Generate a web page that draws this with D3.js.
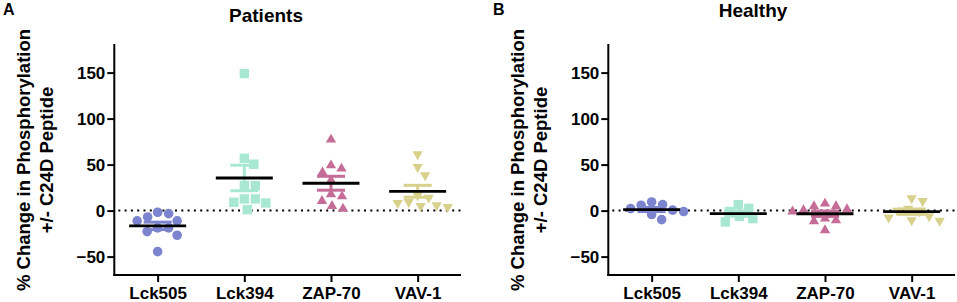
<!DOCTYPE html>
<html>
<head>
<meta charset="utf-8">
<script src="https://cdn.jsdelivr.net/npm/d3@7"></script>
<style>
  body { margin: 0; background: #fff; }
  svg text { font-family: "Liberation Sans", Arial, sans-serif; font-weight: bold; fill: #000; }
</style>
</head>
<body>
<div id="chart"></div>
<script>
const categories = ["Lck505", "Lck394", "ZAP-70", "VAV-1"]
const yTicks = [-50, 0, 50, 100, 150]

// % change values
const patientLck505 = [-1.8, -3.3, -6.9, -11.2, -11.2, -18.8, -18.8, -22.8, -26.8, -44.6]
const patientLck394 = [148.9, 56.9, 50.4, 27.2, 27.2, 12.7, 12.7, 9.1, 8.3, 1.1]
const patientZap70 = [77.2, 49.2, 45.6, 41.6, 32.9, 17.7, 15.5, 10.5, 5.0, 2.1]
const patientVav1 = [61.2, 47.4, 38.4, 16.6, 14.1, 9.3, 8.3, 5.8, 5.0, 3.9]

const healthyLck505 = [9.4, 6.5, 5.8, 2.2, 0.5, -1, -4.3, -9.8]
const healthyLck394 = [6.5, 2.5, -1, -6.2, -8.7, -12.3]
const healthyZap70 = [7.6, 4.7, 4.7, 1.5, 0.5, -1, -8.7, -10.5, -11.6, -21.4]
const healthyVav1 = [13.5, 10.5, 2, 0, -1, -6.2, -7.6, -10.5, -11]

const colors = ["#7d84cf", "#a8e8d3", "#c56d98", "#d7d18b"]
const shapes = ["circle", "square", "triangle", "triangleDown"]

const panels = [
  { letter: "A", title: "Patients", left: 114.3, titleX: 266, titleY: 22, letterX: 3,
    groups: [patientLck505, patientLck394, patientZap70, patientVav1] },
  { letter: "B", title: "Healthy", left: 608.3, titleX: 753, titleY: 17, letterX: 493,
    groups: [healthyLck505, healthyLck394, healthyZap70, healthyVav1] }
]

const width = 957, height = 302
const plotW = 346.7, plotTop = 45, plotBottom = 275

const svg = d3.select("#chart").append("svg")
  .attr("width", width).attr("height", height)
  .attr("viewBox", `0 0 ${width} ${height}`)

const y = d3.scaleLinear().domain([-70, 180]).range([plotBottom, plotTop])

// simple beeswarm so overlapping points get pushed sideways
function swarm(values, cx, d) {
  const pts = values.map(v => ({ v, py: y(v), dx: 0 })).sort((a, b) => b.v - a.v)
  const placed = []
  pts.forEach(p => {
    for (let k = 0; k < 200; k++) {
      const step = Math.ceil(k / 2) * 0.5 * (k % 2 ? 1 : -1)
      const ok = placed.every(q => (step - q.dx) ** 2 + (p.py - q.py) ** 2 >= d * d)
      if (ok) { p.dx = step; break }
    }
    placed.push(p)
  })
  return pts.map(p => ({ x: cx + p.dx, y: p.py }))
}

function marker(sel, shape, color) {
  if (shape === "circle") {
    sel.append("circle").attr("r", 4.8).attr("fill", color)
  } else if (shape === "square") {
    sel.append("rect").attr("x", -4.7).attr("y", -4.7).attr("width", 9.4).attr("height", 9.4).attr("fill", color)
  } else {
    const p = d3.symbol(d3.symbolTriangle, 46)()
    sel.append("path").attr("d", p).attr("fill", color)
      .attr("transform", shape === "triangleDown" ? "rotate(180)" : null)
  }
}

panels.forEach(panel => {
  const x = d3.scalePoint().domain(categories)
    .range([panel.left, panel.left + plotW]).padding(0.5)

  const g = svg.append("g")

  // panel letter and title
  g.append("text").attr("x", panel.letterX).attr("y", 15)
    .attr("font-size", 16).text(panel.letter)
  g.append("text").attr("x", panel.titleX).attr("y", panel.titleY)
    .attr("text-anchor", "middle").attr("font-size", 19).text(panel.title)

  // y axis label
  const midY = (plotTop + plotBottom) / 2
  g.append("text").attr("transform", `translate(${panel.left - 84},${midY}) rotate(-90)`)
    .attr("text-anchor", "middle").attr("font-size", 18.5)
    .text("% Change in Phosphorylation")
  g.append("text").attr("transform", `translate(${panel.left - 61},${midY}) rotate(-90)`)
    .attr("text-anchor", "middle").attr("font-size", 18.5)
    .text("+/- C24D Peptide")

  // zero reference line
  g.append("line")
    .attr("x1", panel.left + 4).attr("x2", panel.left + plotW)
    .attr("y1", y(0)).attr("y2", y(0))
    .attr("stroke", "#000").attr("stroke-width", 2).attr("stroke-dasharray", "2,4.3")

  // points
  panel.groups.forEach((vals, i) => {
    const pts = swarm(vals, x(categories[i]), 11)
    pts.forEach(p => {
      const m = g.append("g").attr("transform", `translate(${p.x},${p.y})`)
      marker(m, shapes[i], colors[i])
    })
  })

  // mean +/- SEM
  panel.groups.forEach((vals, i) => {
    const cx = x(categories[i])
    const mean = d3.mean(vals)
    const sem = d3.deviation(vals) / Math.sqrt(vals.length)
    const eb = g.append("g").attr("stroke", colors[i]).attr("stroke-width", 3)
    eb.append("line").attr("x1", cx).attr("x2", cx).attr("y1", y(mean + sem)).attr("y2", y(mean - sem))
    eb.append("line").attr("x1", cx - 14).attr("x2", cx + 14).attr("y1", y(mean + sem)).attr("y2", y(mean + sem))
    eb.append("line").attr("x1", cx - 14).attr("x2", cx + 14).attr("y1", y(mean - sem)).attr("y2", y(mean - sem))
    g.append("line").attr("x1", cx - 28.5).attr("x2", cx + 28.5)
      .attr("y1", y(mean)).attr("y2", y(mean))
      .attr("stroke", "#000").attr("stroke-width", 2.8)
  })

  // axes
  g.append("g").attr("transform", `translate(${panel.left},0)`)
    .call(d3.axisLeft(y).tickValues(yTicks).tickSize(7).tickSizeOuter(0).tickPadding(2))
    .call(a => a.select(".domain").attr("stroke-width", 2).attr("d", `M0,${plotBottom + 1}V${plotTop - 1}`))
    .call(a => a.selectAll(".tick line").attr("stroke-width", 2))
    .call(a => a.selectAll(".tick text").attr("font-size", 17).attr("font-family", null))

  g.append("g").attr("transform", `translate(0,${plotBottom})`)
    .call(d3.axisBottom(x).tickSize(7).tickSizeOuter(0).tickPadding(5))
    .call(a => a.select(".domain").attr("stroke-width", 2).attr("d", `M${panel.left - 1},0H${panel.left + plotW}`))
    .call(a => a.selectAll(".tick line").attr("stroke-width", 2))
    .call(a => a.selectAll(".tick text").attr("font-size", 17).attr("font-family", null))
})
</script>
</body>
</html>
